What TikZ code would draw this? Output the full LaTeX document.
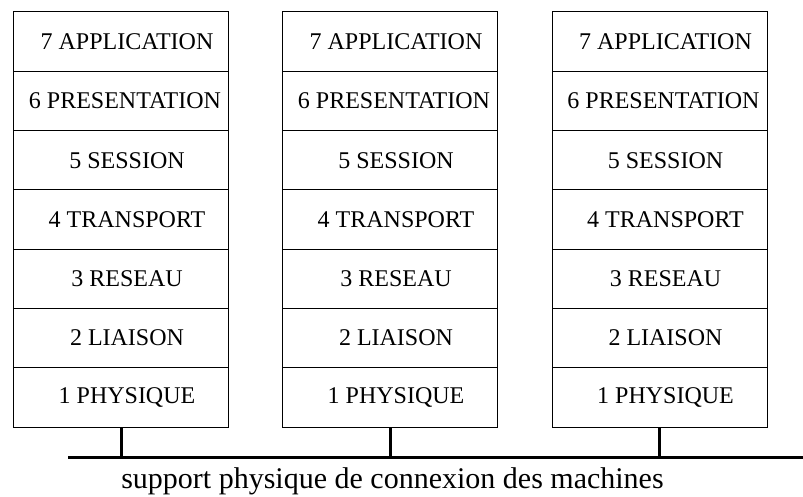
\documentclass[tikz,border=0pt]{standalone}
\usepackage{fontspec}
\setmainfont{Liberation Serif}
\usepackage{tikz}

\tikzset{
  layer/.style={draw, line width=1pt, minimum width=215pt, minimum height=59.3pt,
    inner sep=0pt, font=\fontsize{24}{28}\selectfont},
  bus/.style={line width=3pt}
}

\begin{document}
\begin{tikzpicture}[x=1pt, y=1pt]
      % scale: 1 pt = 1 px of the reference
      \useasboundingbox (0,0) rectangle (803,-496);
      % first machine
      \node[layer] (a7) at (121,-41.6)  {\hspace*{12pt}7 APPLICATION};
      \node[layer] (a6) at (121,-100.9) {\hspace*{8pt}6 PRESENTATION};
      \node[layer] (a5) at (121,-160.2) {\hspace*{12pt}5 SESSION};
      \node[layer] (a4) at (121,-219.5) {\hspace*{12pt}4 TRANSPORT};
      \node[layer] (a3) at (121,-278.8) {\hspace*{12pt}3 RESEAU};
      \node[layer] (a2) at (121,-338.1) {\hspace*{12pt}2 LIAISON};
      \node[layer] (a1) at (121,-397.4) {\hspace*{12pt}1 PHYSIQUE};
      % second machine
      \node[layer] (b7) at (390,-41.6)  {\hspace*{12pt}7 APPLICATION};
      \node[layer] (b6) at (390,-100.9) {\hspace*{8pt}6 PRESENTATION};
      \node[layer] (b5) at (390,-160.2) {\hspace*{12pt}5 SESSION};
      \node[layer] (b4) at (390,-219.5) {\hspace*{12pt}4 TRANSPORT};
      \node[layer] (b3) at (390,-278.8) {\hspace*{12pt}3 RESEAU};
      \node[layer] (b2) at (390,-338.1) {\hspace*{12pt}2 LIAISON};
      \node[layer] (b1) at (390,-397.4) {\hspace*{12pt}1 PHYSIQUE};
      % third machine
      \node[layer] (c7) at (659.5,-41.6)  {\hspace*{12pt}7 APPLICATION};
      \node[layer] (c6) at (659.5,-100.9) {\hspace*{8pt}6 PRESENTATION};
      \node[layer] (c5) at (659.5,-160.2) {\hspace*{12pt}5 SESSION};
      \node[layer] (c4) at (659.5,-219.5) {\hspace*{12pt}4 TRANSPORT};
      \node[layer] (c3) at (659.5,-278.8) {\hspace*{12pt}3 RESEAU};
      \node[layer] (c2) at (659.5,-338.1) {\hspace*{12pt}2 LIAISON};
      \node[layer] (c1) at (659.5,-397.4) {\hspace*{12pt}1 PHYSIQUE};
      % physical medium
      \coordinate (busL) at (68,-457);
      \coordinate (busR) at (803,-457);
      \draw[bus] (busL) -- (busR);
      \draw[bus] (a1.south) -- (a1.south |- busL);
      \draw[bus] (b1.south) -- (b1.south |- busL);
      \draw[bus] (c1.south) -- (c1.south |- busL);
      \node[anchor=base, inner sep=0pt, font=\fontsize{30}{36}\selectfont] (caption) at (392.5,-488)
        {support physique de connexion des machines};
\end{tikzpicture}
\end{document}
